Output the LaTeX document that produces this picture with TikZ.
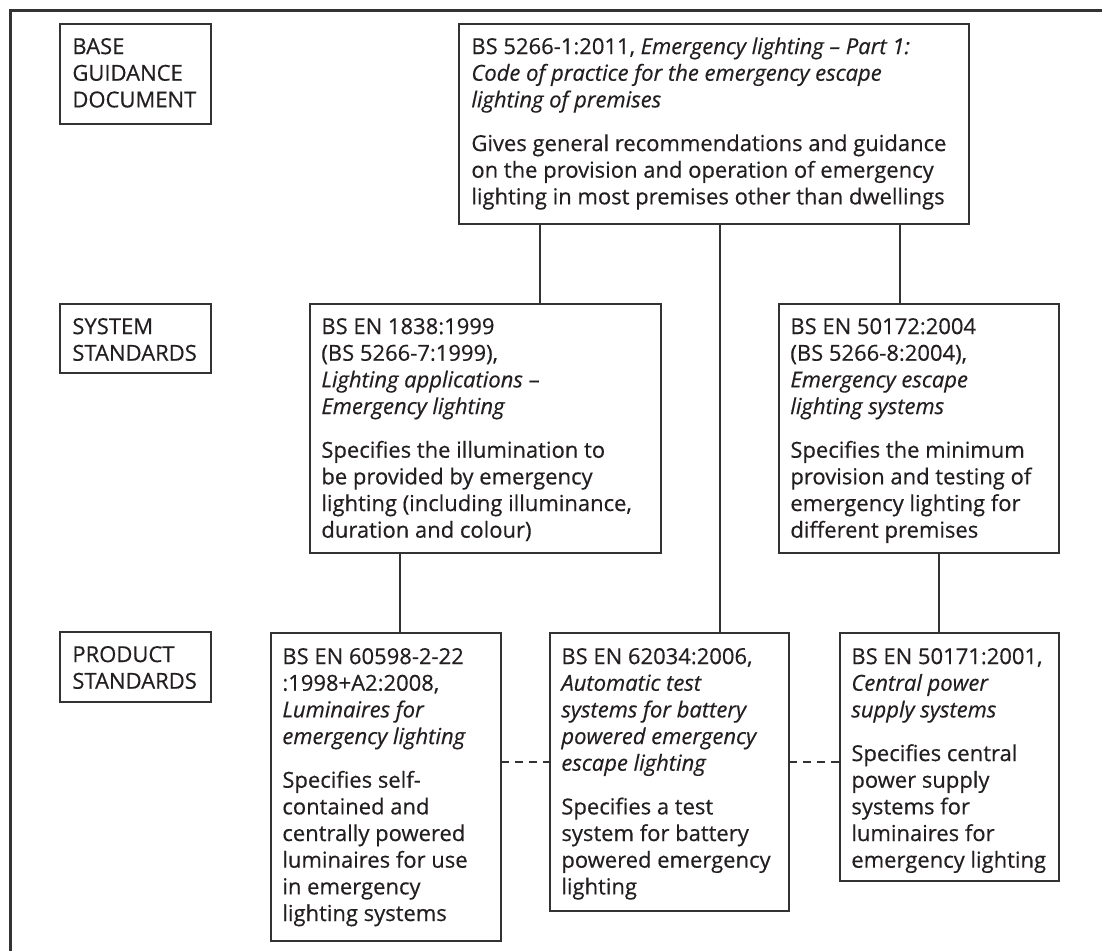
\documentclass[tikz,border=0pt]{standalone}
\usepackage{fontspec}
\setmainfont{Open Sans}[FakeBold=0.45]
\definecolor{linecol}{HTML}{333333}
\definecolor{textcol}{HTML}{231F20}
\newcommand\pgap{\\[8.5pt]}
\tikzset{
  x=0.5pt, y=-0.5pt,
  box/.style={draw=linecol, line width=0.75pt, anchor=north west, inner sep=0pt, outer sep=0pt},
  txt/.style={anchor=north west, inner sep=0pt, align=left, text=textcol,
    font=\fontsize{11}{13.33}\selectfont},
  conn/.style={draw=linecol, line width=0.75pt},
  dashconn/.style={conn, dash pattern=on 4pt off 3pt},
  frame/.style={draw=linecol, line width=1.5pt},
}
\begin{document}
\begin{tikzpicture}
\useasboundingbox (0,0) rectangle (1102,951);
\clip (0,0) rectangle (1102,951);
\draw[frame] (10,970) -- (10,11) -- (1120,11);

% boxes
\node[box, minimum width=75.5pt, minimum height=50pt] (base) at (60,24) {};
\node[box, minimum width=255pt, minimum height=100pt] (top) at (459,24) {};
\node[box, minimum width=75.5pt, minimum height=34.5pt] (syslab) at (60,304) {};
\node[box, minimum width=175.5pt, minimum height=124.5pt] (sysL) at (310,304) {};
\node[box, minimum width=140pt, minimum height=124.5pt] (sysR) at (779,304) {};
\node[box, minimum width=75.5pt, minimum height=35pt] (prodlab) at (60,632) {};
\node[box, minimum width=115pt, minimum height=154pt] (prodL) at (271,633) {};
\node[box, minimum width=119.5pt, minimum height=139pt] (prodM) at (550,633) {};
\node[box, minimum width=109.5pt, minimum height=124pt] (prodR) at (840,633) {};

% texts
\node[txt] (baseT) at ([shift={(6pt,-5.5pt)}]base.north west) {\strut BASE\\GUIDANCE\\DOCUMENT};
\node[txt] (topT) at ([shift={(6pt,-5.5pt)}]top.north west) {\strut BS 5266-1:2011, \textit{Emergency lighting – Part 1:}\\\textit{Code of practice for the emergency escape}\\\textit{lighting of premises}\pgap
Gives general recommendations and guidance\\on the provision and operation of emergency\\lighting in most premises other than dwellings};
\node[txt] (syslabT) at ([shift={(6pt,-5.5pt)}]syslab.north west) {\strut SYSTEM\\STANDARDS};
\node[txt] (sysLT) at ([shift={(5.5pt,-5.5pt)}]sysL.north west) {\strut BS EN 1838:1999\\(BS 5266-7:1999),\\\textit{Lighting applications} –\\\textit{Emergency lighting}\pgap
Specifies the illumination to\\be provided by emergency\\lighting (including illuminance,\\duration and colour)};
\node[txt] (sysRT) at ([shift={(5.5pt,-5.5pt)}]sysR.north west) {\strut BS EN 50172:2004\\(BS 5266-8:2004),\\\textit{Emergency escape}\\\textit{lighting systems}\pgap
Specifies the minimum\\provision and testing of\\emergency lighting for\\different premises};
\node[txt] (prodlabT) at ([shift={(6pt,-5.5pt)}]prodlab.north west) {\strut PRODUCT\\STANDARDS};
\node[txt] (prodLT) at ([shift={(5.5pt,-6pt)}]prodL.north west) {\strut BS EN 60598-2-22\\:1998+A2:2008,\\\textit{Luminaires for}\\\textit{emergency lighting}\pgap
Specifies self-\\contained and\\centrally powered\\luminaires for use\\in emergency\\lighting systems};
\node[txt] (prodMT) at ([shift={(5.5pt,-6pt)}]prodM.north west) {\strut BS EN 62034:2006,\\\textit{Automatic test}\\\textit{systems for battery}\\\textit{powered emergency}\\\textit{escape lighting}\pgap
Specifies a test\\system for battery\\powered emergency\\lighting};
\node[txt] (prodRT) at ([shift={(5.5pt,-6pt)}]prodR.north west) {\strut BS EN 50171:2001,\\\textit{Central power}\\\textit{supply systems}\pgap
Specifies central\\power supply\\systems for\\luminaires for\\emergency lighting};

% connector columns
\coordinate (c1) at (540,0);
\coordinate (c2) at (720,0);
\coordinate (c3) at (900,0);
\coordinate (c4) at (400,0);
\coordinate (c5) at (939,0);
\coordinate (r1) at (0,762);

\draw[conn] (c1 |- top.south) -- (c1 |- sysL.north);
\draw[conn] (c2 |- top.south) -- (c2 |- prodM.north);
\draw[conn] (c3 |- top.south) -- (c3 |- sysR.north);
\draw[conn] (c4 |- sysL.south) -- (c4 |- prodL.north);
\draw[conn] (c5 |- sysR.south) -- (c5 |- prodR.north);
\draw[dashconn] (prodL.east |- r1) -- (prodM.west |- r1);
\draw[dashconn] (prodM.east |- r1) -- (prodR.west |- r1);
\end{tikzpicture}
\end{document}
